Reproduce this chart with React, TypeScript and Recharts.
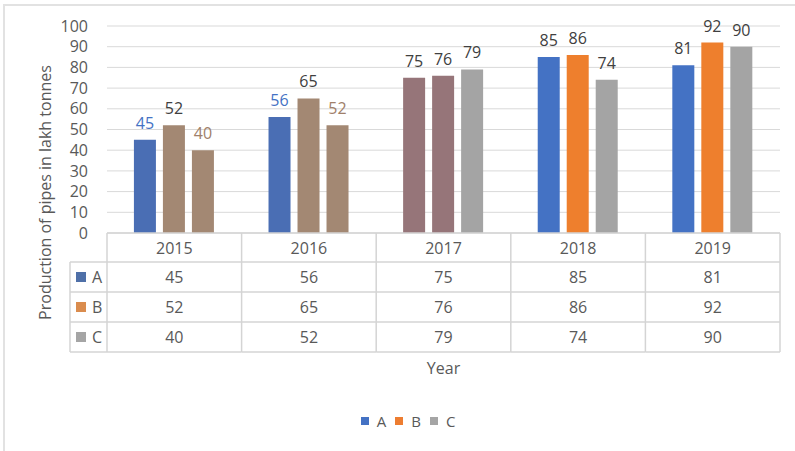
import React from 'react';
import { BarChart, Bar, XAxis, YAxis, CartesianGrid, Cell, LabelList, Legend } from 'recharts';

const years = ['2015', '2016', '2017', '2018', '2019'];
const seriesA = [45, 56, 75, 85, 81];
const seriesB = [52, 65, 76, 86, 92];
const seriesC = [40, 52, 79, 74, 90];
const seriesNames = ['A', 'B', 'C'];
const yTicks = [0, 10, 20, 30, 40, 50, 60, 70, 80, 90, 100];

// styles
const legendColors = ['#4472c4', '#ed7d31', '#a5a5a5'];
const tableKeyColors = ['#4f70a8', '#da8c4e', '#a5a5a5'];
const barColorsA = ['#4a6eb4', '#4a6eb4', '#967579', '#4472c4', '#4472c4'];
const barColorsB = ['#a38873', '#a38873', '#967579', '#ee7f2d', '#ee7f2d'];
const barColorsC = ['#a38873', '#a38873', '#a4a4a4', '#a4a4a4', '#a4a4a4'];
const labelColorsA = ['#4472c4', '#4472c4', '#404040', '#404040', '#404040'];
const labelColorsB = ['#404040', '#404040', '#404040', '#404040', '#404040'];
const labelColorsC = ['#a0806a', '#a0806a', '#404040', '#404040', '#404040'];

const FONT = '"Open Sans", sans-serif';
const TEXT = '#595959';
const LINE = '#d4d4d4';

const W = 795;
const H = 451;
const M = { top: 26, right: 15, left: 47, bottom: 73 };
const Y_AXIS_W = 60;
const X_AXIS_H = 145;
const PLOT_W = W - M.left - M.right - Y_AXIS_W;
const CELL_W = PLOT_W / years.length;
const HEADER_H = 29;
const ROW_H = 30;
const KEY_COL_W = 37;

const data = years.map((year, i) => ({ year, A: seriesA[i], B: seriesB[i], C: seriesC[i] }));
const seriesValues = [seriesA, seriesB, seriesC];

function TableTick(props: any) {
  const { x, y, payload } = props;
  const i: number = payload.index;
  const left = x - CELL_W / 2;
  const right = x + CELL_W / 2;
  const bottom = y + HEADER_H + ROW_H * 3;
  const rowTops = [0, 1, 2, 3].map((r) => y + HEADER_H + r * ROW_H);
  const els: any[] = [];
  els.push(<line key="vl" x1={left} x2={left} y1={y} y2={bottom} stroke={LINE} strokeWidth={1.5} />);
  if (i === years.length - 1) {
    els.push(<line key="vr" x1={right} x2={right} y1={y} y2={bottom} stroke={LINE} strokeWidth={1.5} />);
  }
  rowTops.forEach((ry, r) => {
    els.push(<line key={'h' + r} x1={left} x2={right} y1={ry} y2={ry} stroke={LINE} strokeWidth={1.5} />);
  });
  els.push(
    <text key="yr" x={x} y={y + HEADER_H / 2} textAnchor="middle" dominantBaseline="central" fill={TEXT} fontSize={16} fontFamily={FONT}>
      {payload.value}
    </text>
  );
  seriesValues.forEach((vals, r) => {
    els.push(
      <text key={'v' + r} x={x} y={rowTops[r] + ROW_H / 2} textAnchor="middle" dominantBaseline="central" fill={TEXT} fontSize={16} fontFamily={FONT}>
        {vals[i]}
      </text>
    );
  });
  if (i === 0) {
    const kl = left - KEY_COL_W;
    els.push(<line key="kl" x1={kl} x2={kl} y1={rowTops[0]} y2={bottom} stroke={LINE} strokeWidth={1.5} />);
    rowTops.forEach((ry, r) => {
      els.push(<line key={'kh' + r} x1={kl} x2={left} y1={ry} y2={ry} stroke={LINE} strokeWidth={1.5} />);
    });
    seriesNames.forEach((name, r) => {
      const cy = rowTops[r] + ROW_H / 2;
      els.push(<rect key={'ks' + r} x={kl + 6} y={cy - 5} width={10} height={10} fill={tableKeyColors[r]} />);
      els.push(
        <text key={'kt' + r} x={kl + 22} y={cy} dominantBaseline="central" fill={TEXT} fontSize={16} fontFamily={FONT}>
          {name}
        </text>
      );
    });
  }
  return <g>{els}</g>;
}

const makeLabel = (colors: string[]) => (props: any) => {
  const { x, y, width, value, index } = props;
  return (
    <text x={Number(x) + Number(width) / 2} y={Number(y) - 11} textAnchor="middle" fill={colors[index]} fontSize={16} fontFamily={FONT}>
      {value}
    </text>
  );
};

const YTitle = (props: any) => {
  const vb = props.viewBox || {};
  const cx = vb.x - 2;
  const cy = vb.y + vb.height / 2 + 63;
  return (
    <text x={cx} y={cy} transform={`rotate(-90, ${cx}, ${cy})`} textAnchor="middle" dominantBaseline="central" fill={TEXT} fontSize={16} fontFamily={FONT}>
      Production of pipes in lakh tonnes
    </text>
  );
};

const LegendContent = (props: any) => {
  const payload = props.payload || [];
  return (
    <div style={{ display: 'flex', justifyContent: 'center', alignItems: 'center', fontFamily: FONT, fontSize: 15, color: TEXT }}>
      {payload.map((p: any, i: number) => (
        <div key={i} style={{ display: 'flex', alignItems: 'center', marginRight: 9 }}>
          <span style={{ display: 'inline-block', width: 8, height: 8, background: p.color, marginRight: 8 }} />
          <span>{p.value}</span>
        </div>
      ))}
    </div>
  );
};

export default function App() {
  return (
    <div style={{ position: 'absolute', left: 0, top: 0, width: W, height: H, overflow: 'hidden', background: '#fff' }}>
      <div style={{ position: 'absolute', left: 3, top: 4, width: 900, height: 600, border: '2px solid #e2e2e2' }} />
      <div style={{ position: 'absolute', left: 0, top: 0 }}>
        <BarChart width={W} height={H} data={data} margin={M} barGap={7} barCategoryGap="20%">
          <CartesianGrid vertical={false} stroke="#d9d9d9" />
          <XAxis
            dataKey="year"
            interval={0}
            height={X_AXIS_H}
            tickLine={false}
            tickSize={0}
            tickMargin={0}
            axisLine={{ stroke: LINE, strokeWidth: 1.5 }}
            tick={<TableTick />}
            label={{ value: 'Year', position: 'insideBottom', offset: 4, fill: TEXT, fontSize: 16, fontFamily: FONT }}
          />
          <YAxis
            width={Y_AXIS_W}
            domain={[0, 100]}
            ticks={yTicks}
            interval={0}
            axisLine={false}
            tickLine={false}
            tickSize={0}
            tickMargin={19}
            tick={{ fill: TEXT, fontSize: 16, fontFamily: FONT }}
            label={{ content: <YTitle /> }}
          />
          <Legend
            layout="horizontal"
            verticalAlign="middle"
            align="center"
            wrapperStyle={{ top: 411, left: 24, width: 777 }}
            content={<LegendContent />}
          />
          <Bar dataKey="A" name={seriesNames[0]} fill={legendColors[0]} isAnimationActive={false}>
            {data.map((_, i) => (
              <Cell key={i} fill={barColorsA[i]} />
            ))}
            <LabelList dataKey="A" content={makeLabel(labelColorsA)} />
          </Bar>
          <Bar dataKey="B" name={seriesNames[1]} fill={legendColors[1]} isAnimationActive={false}>
            {data.map((_, i) => (
              <Cell key={i} fill={barColorsB[i]} />
            ))}
            <LabelList dataKey="B" content={makeLabel(labelColorsB)} />
          </Bar>
          <Bar dataKey="C" name={seriesNames[2]} fill={legendColors[2]} isAnimationActive={false}>
            {data.map((_, i) => (
              <Cell key={i} fill={barColorsC[i]} />
            ))}
            <LabelList dataKey="C" content={makeLabel(labelColorsC)} />
          </Bar>
        </BarChart>
      </div>
    </div>
  );
}
